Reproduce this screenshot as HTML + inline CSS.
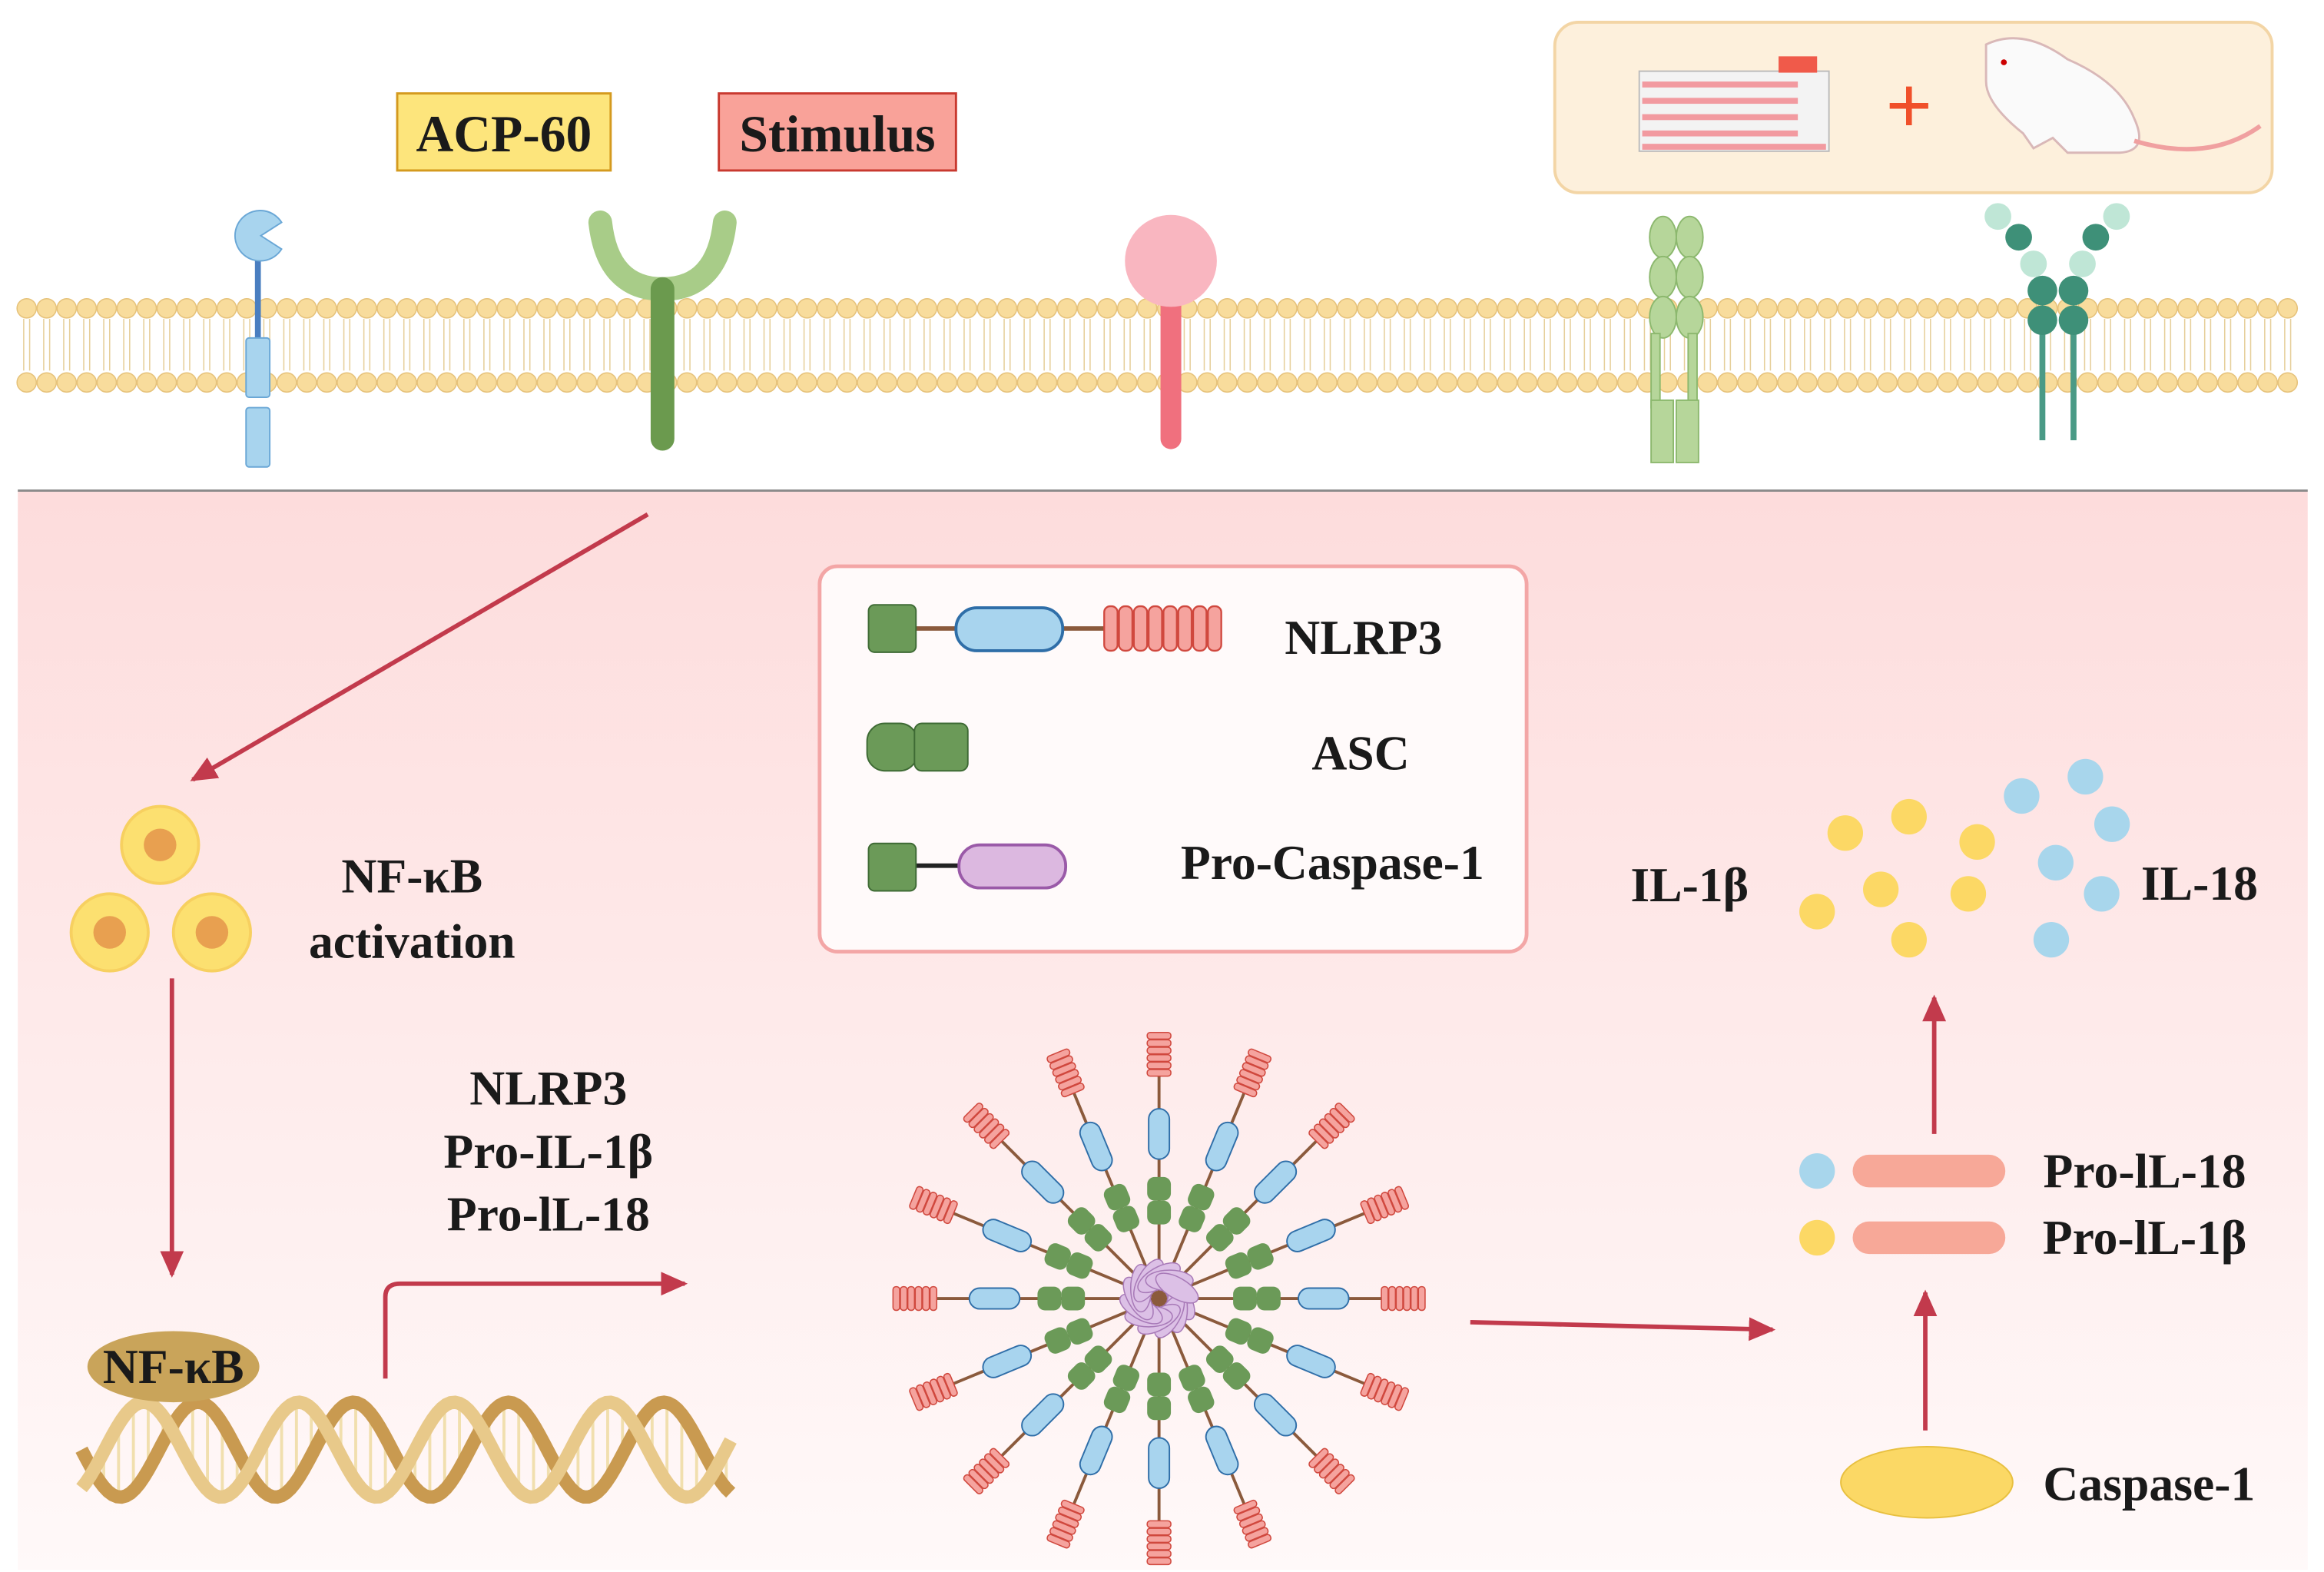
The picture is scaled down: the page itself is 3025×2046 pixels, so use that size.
<!DOCTYPE html>
<html><head><meta charset="utf-8">
<style>html,body{margin:0;padding:0;background:#fff}svg{display:block}
text{font-family:"Liberation Serif",serif;font-weight:bold;fill:#1a1a1a}</style></head>
<body>
<svg id="s" xmlns="http://www.w3.org/2000/svg" width="3025" height="2046" viewBox="0 0 1568 1060.5">
<defs>
<linearGradient id="bg" x1="0" y1="0" x2="0" y2="1"><stop offset="0" stop-color="#fddcdc"/><stop offset="1" stop-color="#fff9f9"/></linearGradient>
<marker id="ar2" markerWidth="20" markerHeight="20" refX="16" refY="10" orient="auto" markerUnits="userSpaceOnUse"><path d="M0,2 L18,10 L0,18 Z" fill="#c23a4c"/></marker>
</defs>
<rect x="0" y="0" width="1568" height="1061" fill="#fff"/>
<rect x="12" y="331" width="1545" height="728" fill="url(#bg)"/>
<line x1="12" y1="331" x2="1557" y2="331" stroke="#8a8a8a" stroke-width="1.5"/>
<g id="mem"></g>
<rect x="1049" y="15" width="484" height="115" rx="16" fill="#fdf0dc" stroke="#f3d5a5" stroke-width="2"/>
<rect x="1106" y="48" width="128" height="54" fill="#f3f3f3" stroke="#bbb"/>
<rect x="1200" y="38" width="26" height="11" fill="#f05a4a"/>
<g fill="#f29aa0"><rect x="1108" y="55" width="105" height="4"/><rect x="1108" y="66" width="105" height="4"/><rect x="1108" y="77" width="105" height="4"/><rect x="1108" y="88" width="105" height="4"/><rect x="1108" y="97" width="124" height="4"/></g>
<text x="1288" y="90" font-size="56" style="fill:#f0502a" text-anchor="middle" font-weight="normal">+</text>
<path d="M1340,30 Q1365,18 1395,40 Q1430,55 1440,80 Q1450,102 1430,103 L1395,103 L1385,93 L1372,100 L1365,90 Q1340,70 1340,55 Z" fill="#fafafa" stroke="#d9b8b8" stroke-width="1.5"/>
<path d="M1440,95 Q1490,110 1525,85" fill="none" stroke="#f0a0a0" stroke-width="3"/>
<circle cx="1352" cy="42" r="2" fill="#c00"/>
<rect x="268" y="63" width="144" height="52" fill="#fde57c" stroke="#d49a1e" stroke-width="1.5"/>
<text x="340" y="102" font-size="35" text-anchor="middle">ACP-60</text>
<rect x="485" y="63" width="160" height="52" fill="#f9a299" stroke="#c8392f" stroke-width="1.5"/>
<text x="565" y="102" font-size="35" text-anchor="middle">Stimulus</text>
<line x1="174" y1="165" x2="174" y2="230" stroke="#4a7ec0" stroke-width="4"/>
<path d="M190,150 A17,17 0 1 0 190,168 L176,159 Z" fill="#a8d4ee" stroke="#6aa7d6"/>
<rect x="166" y="228" width="16" height="40" rx="2" fill="#a8d4ee" stroke="#6aa7d6"/>
<rect x="166" y="275" width="16" height="40" rx="2" fill="#a8d4ee" stroke="#6aa7d6"/>
<path d="M405,150 Q410,195 447,195 Q484,195 489,150" fill="none" stroke="#a8cc88" stroke-width="16" stroke-linecap="round"/>
<line x1="447" y1="195" x2="447" y2="296" stroke="#6b9a4e" stroke-width="16" stroke-linecap="round"/>
<line x1="790" y1="190" x2="790" y2="296" stroke="#f0707e" stroke-width="14" stroke-linecap="round"/>
<circle cx="790" cy="176" r="31" fill="#f9b6c0"/>
<g fill="#b6d69a" stroke="#8cb86e"><ellipse cx="1122" cy="160" rx="9" ry="14"/><ellipse cx="1140" cy="160" rx="9" ry="14"/><ellipse cx="1122" cy="187" rx="9" ry="14"/><ellipse cx="1140" cy="187" rx="9" ry="14"/><ellipse cx="1122" cy="214" rx="9" ry="14"/><ellipse cx="1140" cy="214" rx="9" ry="14"/>
<rect x="1114" y="225" width="6" height="50"/><rect x="1139" y="225" width="6" height="50"/><rect x="1114" y="270" width="15" height="42"/><rect x="1131" y="270" width="15" height="42"/></g>
<g stroke="#4a9a86" stroke-width="4"><line x1="1378" y1="225" x2="1378" y2="297"/><line x1="1399" y1="225" x2="1399" y2="297"/></g>
<g fill="#3e9078"><circle cx="1362" cy="160" r="9"/><circle cx="1414" cy="160" r="9"/><circle cx="1378" cy="196" r="10"/><circle cx="1399" cy="196" r="10"/><circle cx="1378" cy="216" r="10"/><circle cx="1399" cy="216" r="10"/></g>
<g fill="#bfe6d6"><circle cx="1348" cy="146" r="9"/><circle cx="1428" cy="146" r="9"/><circle cx="1372" cy="178" r="9"/><circle cx="1405" cy="178" r="9"/></g>
<g stroke="#c23a4c" stroke-width="3" fill="none">
<line x1="437" y1="347" x2="130" y2="526" marker-end="url(#ar2)"/>
<line x1="116" y1="660" x2="116" y2="860" marker-end="url(#ar2)"/>
<path d="M260,930 L260,875 Q260,866 270,866 L462,866" marker-end="url(#ar2)"/>
<line x1="992" y1="892" x2="1196" y2="897" marker-end="url(#ar2)"/>
<line x1="1299" y1="965" x2="1299" y2="872" marker-end="url(#ar2)"/>
<line x1="1305" y1="765" x2="1305" y2="673" marker-end="url(#ar2)"/>
</g>
<g fill="#fce070" stroke="#f7d060" stroke-width="2"><circle cx="108" cy="570" r="26"/><circle cx="74" cy="629" r="26"/><circle cx="143" cy="629" r="26"/></g>
<g fill="#e8a050"><circle cx="108" cy="570" r="11"/><circle cx="74" cy="629" r="11"/><circle cx="143" cy="629" r="11"/></g>
<text x="278" y="602" font-size="33" text-anchor="middle">NF-κB</text>
<text x="278" y="646" font-size="33" text-anchor="middle">activation</text>
<text x="370" y="745" font-size="33" text-anchor="middle">NLRP3</text>
<text x="370" y="788" font-size="33" text-anchor="middle">Pro-IL-1β</text>
<text x="370" y="830" font-size="33" text-anchor="middle">Pro-lL-18</text>
<g id="dna"></g>
<ellipse cx="117" cy="922" rx="58" ry="24" fill="#c9a45a"/>
<text x="117" y="933" font-size="33" text-anchor="middle">NF-κB</text>
<rect x="553" y="382" width="477" height="260" rx="12" fill="#fffafa" stroke="#f3a6a6" stroke-width="2.5"/>
<line x1="618" y1="424" x2="745" y2="424" stroke="#8b5a3c" stroke-width="3"/>
<rect x="586" y="408" width="32" height="32" rx="4" fill="#6b9a58" stroke="#3e6a34"/>
<rect x="645" y="410" width="72" height="29" rx="14" fill="#a8d4ee" stroke="#2f6ea8" stroke-width="2"/>
<g id="leg"></g>
<text x="920" y="441" font-size="33" text-anchor="middle">NLRP3</text>
<rect x="585" y="488" width="34" height="32" rx="12" fill="#6b9a58" stroke="#3e6a34"/>
<rect x="617" y="488" width="36" height="32" rx="5" fill="#6b9a58" stroke="#3e6a34"/>
<text x="918" y="519" font-size="33" text-anchor="middle">ASC</text>
<line x1="618" y1="584" x2="650" y2="584" stroke="#222" stroke-width="3"/>
<rect x="586" y="569" width="32" height="32" rx="4" fill="#6b9a58" stroke="#3e6a34"/>
<rect x="647" y="570" width="72" height="29" rx="14" fill="#dcb8e0" stroke="#9a5aa8" stroke-width="2"/>
<text x="899" y="593" font-size="33" text-anchor="middle">Pro-Caspase-1</text>
<g id="inf"></g>
<g fill="#fcd865"><circle cx="1245" cy="562" r="12"/><circle cx="1288" cy="551" r="12"/><circle cx="1334" cy="568" r="12"/><circle cx="1269" cy="600" r="12"/><circle cx="1328" cy="603" r="12"/><circle cx="1226" cy="615" r="12"/><circle cx="1288" cy="634" r="12"/></g>
<g fill="#a8d6ec"><circle cx="1364" cy="537" r="12"/><circle cx="1407" cy="524" r="12"/><circle cx="1425" cy="556" r="12"/><circle cx="1387" cy="582" r="12"/><circle cx="1418" cy="603" r="12"/><circle cx="1384" cy="634" r="12"/></g>
<text x="1140" y="608" font-size="33" text-anchor="middle">IL-1β</text>
<text x="1484" y="607" font-size="33" text-anchor="middle">IL-18</text>
<circle cx="1226" cy="790" r="12" fill="#a8d6ec"/>
<rect x="1250" y="779" width="103" height="22" rx="11" fill="#f7a898"/>
<circle cx="1226" cy="835" r="12" fill="#fcd865"/>
<rect x="1250" y="824" width="103" height="22" rx="11" fill="#f7a898"/>
<text x="1447" y="801" font-size="33" text-anchor="middle">Pro-lL-18</text>
<text x="1447" y="846" font-size="33" text-anchor="middle">Pro-lL-1β</text>
<ellipse cx="1300" cy="1000" rx="58" ry="24" fill="#fbd865" stroke="#e8c040"/>
<text x="1450" y="1012" font-size="33" text-anchor="middle">Caspase-1</text>
</svg>
<script>
var NS="http://www.w3.org/2000/svg";
function el(p,t,a){var e=document.createElementNS(NS,t);for(var k in a)e.setAttribute(k,a[k]);p.appendChild(e);return e;}
var m=document.getElementById("mem");
for(var x=18;x<1556;x+=13.5){
 el(m,"line",{x1:x-2,y1:215,x2:x-2,y2:250,stroke:"#e6cf9a","stroke-width":0.8});
 el(m,"line",{x1:x+2,y1:215,x2:x+2,y2:250,stroke:"#e6cf9a","stroke-width":0.8});
 el(m,"circle",{cx:x,cy:208,r:6.5,fill:"#f8dc9c",stroke:"#e6c27a","stroke-width":0.8});
 el(m,"circle",{cx:x,cy:258,r:6.5,fill:"#f8dc9c",stroke:"#e6c27a","stroke-width":0.8});
}
var lg=document.getElementById("leg");
for(var i=0;i<8;i++) el(lg,"rect",{x:745+i*10,y:409,width:9,height:30,rx:4,fill:"#f5a39e",stroke:"#d0483e","stroke-width":1.2});
var d=document.getElementById("dna");
function helix(ph,col,w){var s="";for(var x=55;x<=495;x+=3){var y=978+32*Math.sin((x-55)/440*2*Math.PI*4.2+ph);s+=(x==55?"M":"L")+x+","+y;}el(d,"path",{d:s,fill:"none",stroke:col,"stroke-width":w});}
for(var x=60;x<495;x+=10){var y1=978+32*Math.sin((x-55)/440*2*Math.PI*4.2),y2=978+32*Math.sin((x-55)/440*2*Math.PI*4.2+2.2);el(d,"line",{x1:x,y1:y1,x2:x,y2:y2,stroke:"#f1dfae","stroke-width":2});}
helix(0,"#c99a50",9);helix(2.2,"#e8c98a",9);
var g=document.getElementById("inf"),cx=782,cy=876;
for(var k=0;k<16;k++){
 var a=k*22.5-90,gg=el(g,"g",{transform:"translate("+cx+","+cy+") rotate("+a+")"});
 el(gg,"line",{x1:0,y1:0,x2:150,y2:0,stroke:"#8b5a3c","stroke-width":2});
 el(gg,"rect",{x:50,y:-8,width:16,height:16,rx:5,fill:"#6b9a58"});
 el(gg,"rect",{x:66,y:-8,width:16,height:16,rx:5,fill:"#6b9a58"});
 el(gg,"rect",{x:94,y:-7,width:34,height:14,rx:7,fill:"#a8d4ee",stroke:"#2f6ea8","stroke-width":1});
 for(var j=0;j<6;j++) el(gg,"rect",{x:150+j*5,y:-8,width:4.5,height:16,rx:2,fill:"#f5a39e",stroke:"#d0483e","stroke-width":0.8});
}
for(var k=0;k<12;k++){var a=k*30;el(g,"ellipse",{cx:cx+Math.cos(a*Math.PI/180)*14,cy:cy+Math.sin(a*Math.PI/180)*14,rx:16,ry:7,transform:"rotate("+(a+60)+" "+(cx+Math.cos(a*Math.PI/180)*14)+" "+(cy+Math.sin(a*Math.PI/180)*14)+")",fill:"#dcc0e6",stroke:"#a87ab8","stroke-width":0.8});}
</script>
</body></html>
